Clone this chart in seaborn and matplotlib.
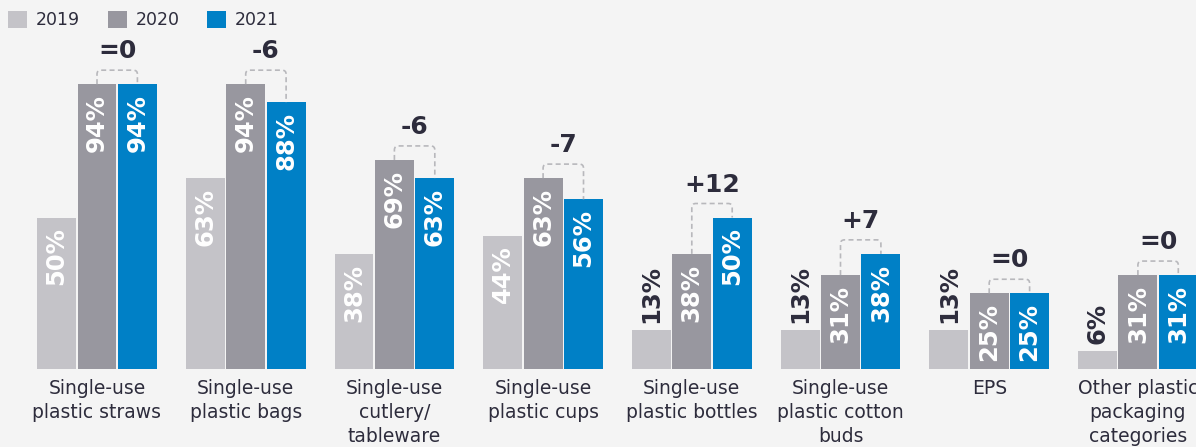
import matplotlib
matplotlib.use("Agg")
import matplotlib.pyplot as plt
from matplotlib.path import Path
from matplotlib.patches import PathPatch
import seaborn as sns
import pandas as pd

categories = [
    "Single-use\nplastic straws",
    "Single-use\nplastic bags",
    "Single-use\ncutlery/\ntableware",
    "Single-use\nplastic cups",
    "Single-use\nplastic bottles",
    "Single-use\nplastic cotton\nbuds",
    "EPS",
    "Other plastic\npackaging\ncategories",
]
years = ["2019", "2020", "2021"]
values_2019 = [50, 63, 38, 44, 13, 13, 13, 6]
values_2020 = [94, 94, 69, 63, 38, 31, 25, 31]
values_2021 = [94, 88, 63, 56, 50, 38, 25, 31]

colors = ["#c4c3c8", "#98979f", "#0080c6"]
dark = "#2d2c3c"
bg = "#f4f4f4"

series = {"2019": values_2019, "2020": values_2020, "2021": values_2021}
df = pd.DataFrame(
    [(c, y, v) for y in years for c, v in zip(categories, series[y])],
    columns=["category", "year", "value"],
)

sns.set_theme(style="white")
plt.rcParams["font.family"] = ["DejaVu Sans"]

W, H = 1196, 447
fig = plt.figure(figsize=(W / 100, H / 100), dpi=100, facecolor=bg)
base_px = 78
ax = fig.add_axes([0, base_px / H, 1, (H - base_px) / H])
ax.set_facecolor(bg)

sns.barplot(
    data=df, x="category", y="value", hue="year", order=categories,
    hue_order=years, palette=colors, width=0.815, gap=0.035,
    saturation=1, legend=True, ax=ax, edgecolor="none",
)

px_per_unit = 3.03
ax.set_ylim(0, (H - base_px) / px_per_unit)
group_px = 148.7
first_px = 97
ax.set_xlim(-first_px / group_px, (W - first_px) / group_px)

for s in ax.spines.values():
    s.set_visible(False)
ax.set_ylabel("")
ax.set_xlabel("")
ax.set_yticks([])
ax.set_xticks(range(len(categories)))
ax.set_xticklabels(categories, fontsize=13.5, color=dark, linespacing=1.33)
ax.tick_params(axis="x", length=0, pad=7)

u = 1 / px_per_unit  # data units per pixel (vertical)
offset = 0.2717
for i in range(len(categories)):
    for j, y in enumerate(years):
        v = series[y][i]
        x = i + (j - 1) * offset
        if v >= 20:
            ax.text(x, v - 10 * u, f"{v}%", rotation=90, ha="center", va="top",
                    color="white", fontsize=17.5, fontweight="bold")
        else:
            ax.text(x, v + 7 * u, f"{v}%", rotation=90, ha="center", va="bottom",
                    color=dark, fontsize=17.5, fontweight="bold")

    # dashed bracket between 2020 and 2021 with the change
    a, b = values_2020[i], values_2021[i]
    x0, x1 = i, i + offset
    top = max(a, b) + 14 * u
    r_x = 4 / group_px
    r_y = 4 * u
    verts = [
        (x0, a), (x0, top - r_y), (x0, top), (x0 + r_x, top),
        (x1 - r_x, top), (x1, top), (x1, top - r_y), (x1, b),
    ]
    codes = [Path.MOVETO, Path.LINETO, Path.CURVE3, Path.CURVE3,
             Path.LINETO, Path.CURVE3, Path.CURVE3, Path.LINETO]
    ax.add_patch(PathPatch(Path(verts, codes), fill=False, edgecolor="#b8b8bc",
                           linewidth=1.2, linestyle=(0, (3, 2)), clip_on=False))
    d = b - a
    label = "=0" if d == 0 else f"{d:+d}"
    ax.text((x0 + x1) / 2, top + 7 * u, label, ha="center", va="bottom",
            color=dark, fontsize=18, fontweight="bold")

handles, labels = ax.get_legend_handles_labels()
ax.get_legend().remove()
fig.legend(
    handles, labels, loc="upper left", bbox_to_anchor=(8 / W, 1 - 11 / H),
    ncol=3, frameon=False, fontsize=12.5, handlelength=1.1, handleheight=1.1,
    handletextpad=0.5, columnspacing=1.6, borderpad=0, borderaxespad=0,
    labelcolor=dark,
)

fig.savefig("out.png", dpi=100, facecolor=bg)
